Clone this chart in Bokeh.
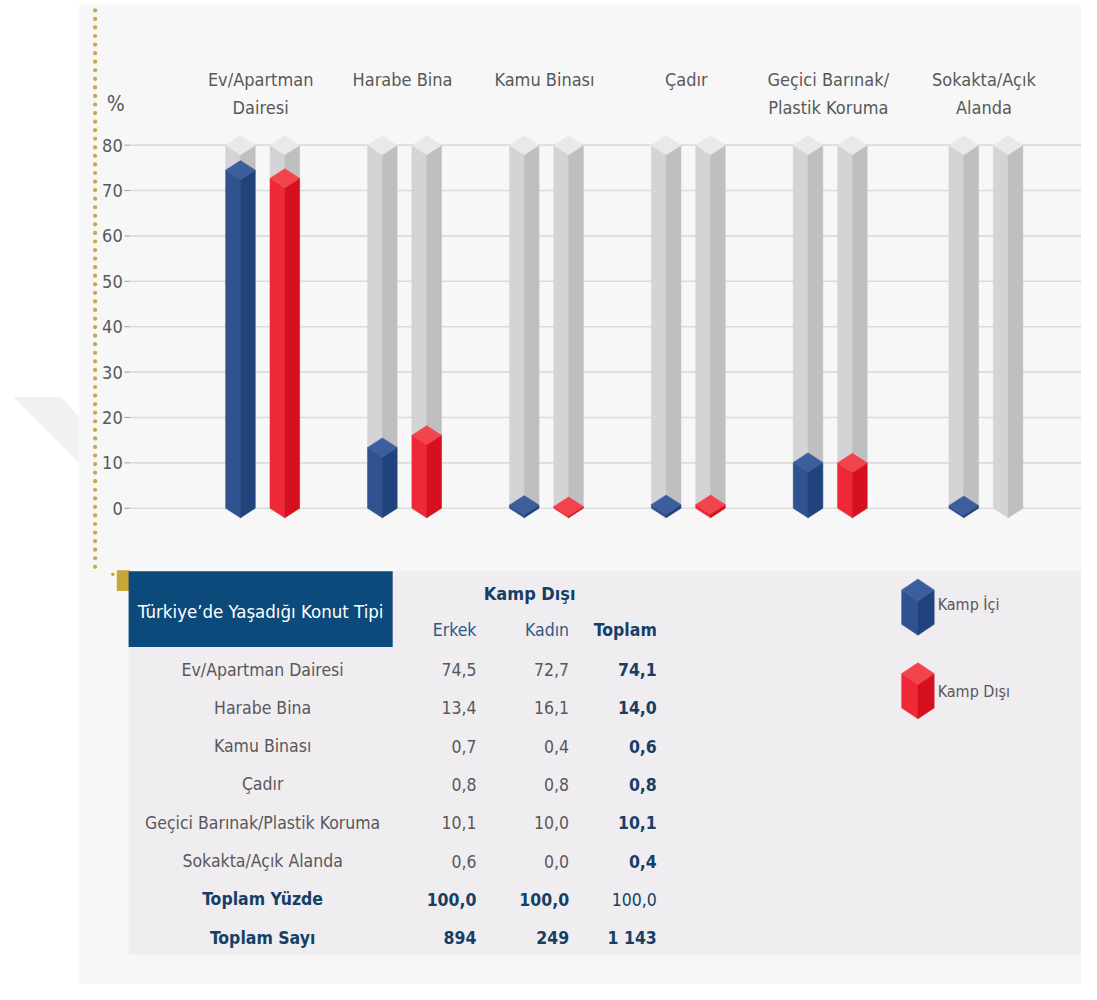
import numpy as np
from bokeh.plotting import figure
from bokeh.models import Range1d, ColumnDataSource
from bokeh.core.properties import value
from bokeh.embed import file_html
from bokeh.resources import INLINE

# ---------------- data ----------------
categories = ["Ev/Apartman Dairesi", "Harabe Bina", "Kamu Binası", "Çadır",
              "Geçici Barınak/Plastik Koruma", "Sokakta/Açık Alanda"]
chart_labels = [["Ev/Apartman", "Dairesi"], ["Harabe Bina"], ["Kamu Binası"], ["Çadır"],
                ["Geçici Barınak/", "Plastik Koruma"], ["Sokakta/Açık", "Alanda"]]
erkek = [74.5, 13.4, 0.7, 0.8, 10.1, 0.6]
kadin = [72.7, 16.1, 0.4, 0.8, 10.0, 0.0]
toplam = [74.1, 14.0, 0.6, 0.8, 10.1, 0.4]
total_pct = [100.0, 100.0, 100.0]
total_n = ["894", "249", "1 143"]
y_ticks = [0, 10, 20, 30, 40, 50, 60, 70, 80]
axis_max = 80
legend_labels = ["Kamp İçi", "Kamp Dışı"]
table_title = "Türkiye’de Yaşadığı Konut Tipi"
group_title = "Kamp Dışı"
col_titles = ["Erkek", "Kadın", "Toplam"]
total_row_titles = ["Toplam Yüzde", "Toplam Sayı"]

FONT = "DejaVu Sans Condensed"
GRAY_TXT = "#58585a"
NAVY = "#173f66"
ROW_FS = "17.5px"

W, H = 1081, 984
PX = 4.6125  # pixels per percent in reference
p = figure(width=W, height=H, output_backend="svg", toolbar_location=None,
           x_range=Range1d(0, 1097), y_range=Range1d(-(1000 - 516) / PX, 516 / PX),
           min_border=0, background_fill_color="#ffffff", border_fill_color="#ffffff")
p.extra_y_ranges = {"px": Range1d(1000, 0)}
p.axis.visible = False
p.grid.visible = False
p.outline_line_color = None

def fmt(v):
    return f"{v:.1f}".replace(".", ",")

# ---------------- backgrounds ----------------
p.quad(left=[80], right=[1097], top=[4], bottom=[1000], y_range_name="px",
       fill_color="#f7f7f7", line_color=None)
p.patch(x=[13, 62, 80, 80], y=[403, 403, 424, 470], y_range_name="px",
        fill_color="#f1f1f1", line_color=None)
p.quad(left=[130], right=[1097], top=[580], bottom=[970], y_range_name="px",
       fill_color="#efedf0", line_color=None)
# dotted gold line
dots_y = np.arange(10, 580, 8.7)
p.scatter(x=[96] * len(dots_y), y=dots_y, y_range_name="px", size=4.2,
          fill_color="#c7aa44", line_color=None)
p.quad(left=[118], right=[131], top=[579], bottom=[600], y_range_name="px",
       fill_color="#c9a53a", line_color=None)
p.scatter(x=[114], y=[583], y_range_name="px", size=3.5, fill_color="#c9a53a", line_color=None)

# ---------------- grid & y axis ----------------
p.segment(x0=[131] * len(y_ticks), x1=[1097] * len(y_ticks), y0=y_ticks, y1=y_ticks,
          line_color="#dcdcdc", line_width=1.6)
p.segment(x0=[126] * len(y_ticks), x1=[131] * len(y_ticks), y0=y_ticks, y1=y_ticks,
          line_color="#9a9a9a", line_width=1)
p.text(x=[124] * len(y_ticks), y=y_ticks, text=[str(t) for t in y_ticks],
       text_align="right", text_baseline="middle", text_font=value(FONT),
       text_font_size="18px", text_color=GRAY_TXT)
p.text(x=[117], y=[105], y_range_name="px", text=["%"], text_align="center",
       text_baseline="middle", text_font=value(FONT), text_font_size="21px", text_color=GRAY_TXT)

# ---------------- 3D bars ----------------
group_x = [266 + 144 * i for i in range(5)] + [1000]
HW = 15.0
D = 2.1

def bar_shapes(xc, v):
    left = ([xc - HW, xc, xc, xc - HW], [v, v - D, -D, 0])
    right = ([xc, xc + HW, xc + HW, xc], [v - D, v, 0, -D])
    cap = ([xc - HW, xc, xc + HW, xc], [v, v + D, v, v - D])
    return left, right, cap

def draw_bars(xs, vals, c_left, c_right, c_cap):
    L = {"xs": [], "ys": []}
    R = {"xs": [], "ys": []}
    C = {"xs": [], "ys": []}
    for xc, v in zip(xs, vals):
        if v <= 0:
            continue
        l, r, c = bar_shapes(xc, v)
        for dct, shp in ((L, l), (R, r), (C, c)):
            dct["xs"].append(shp[0])
            dct["ys"].append(shp[1])
    p.patches(xs="xs", ys="ys", source=ColumnDataSource(L), fill_color=c_left, line_color=c_left, line_width=0.5)
    p.patches(xs="xs", ys="ys", source=ColumnDataSource(R), fill_color=c_right, line_color=c_right, line_width=0.5)
    p.patches(xs="xs", ys="ys", source=ColumnDataSource(C), fill_color=c_cap, line_color=c_cap, line_width=0.5)

blue_x = [g - 22.5 for g in group_x]
red_x = [g + 22.5 for g in group_x]
draw_bars(blue_x + red_x, [axis_max] * (2 * len(categories)), "#d4d3d6", "#bfbfc1", "#e9e8ea")
draw_bars(blue_x, erkek, "#30528f", "#21437c", "#3d5e9c")
draw_bars(red_x, kadin, "#ef2838", "#d7101f", "#f3434d")

# category labels
lx, ly, lt = [], [], []
for g, lines in zip(group_x, chart_labels):
    for k, s in enumerate(lines):
        lx.append(g - 2)
        ly.append(80 + 29 * k)
        lt.append(s)
p.text(x=lx, y=ly, text=lt, y_range_name="px", text_align="center", text_baseline="middle",
       text_font=value(FONT), text_font_size="18px", text_color=GRAY_TXT)

# ---------------- table ----------------
p.quad(left=[130], right=[398], top=[580], bottom=[657], y_range_name="px",
       fill_color="#0c4a7b", line_color=None)
p.text(x=[264], y=[621], text=[table_title], y_range_name="px", text_align="center",
       text_baseline="middle", text_font=value(FONT), text_font_size="18.5px", text_color="#ffffff")
p.text(x=[537], y=[603], text=[group_title], y_range_name="px", text_align="center",
       text_baseline="middle", text_font=value(FONT), text_font_size="18px",
       text_font_style="bold", text_color=NAVY)
col_right = [483, 577, 666]
p.text(x=col_right[:2], y=[640, 640], text=col_titles[:2], y_range_name="px", text_align="right",
       text_baseline="middle", text_font=value(FONT), text_font_size=ROW_FS, text_color="#2f5a86")
p.text(x=[col_right[2]], y=[640], text=[col_titles[2]], y_range_name="px", text_align="right",
       text_baseline="middle", text_font=value(FONT), text_font_size=ROW_FS,
       text_font_style="bold", text_color=NAVY)

row_y = [680 + 38.9 * i for i in range(len(categories))]
p.text(x=[266] * len(categories), y=row_y, text=categories, y_range_name="px",
       text_align="center", text_baseline="middle", text_font=value(FONT),
       text_font_size=ROW_FS, text_color=GRAY_TXT)
p.text(x=[col_right[0]] * len(erkek), y=row_y, text=[fmt(v) for v in erkek], y_range_name="px",
       text_align="right", text_baseline="middle", text_font=value(FONT),
       text_font_size=ROW_FS, text_color=GRAY_TXT)
p.text(x=[col_right[1]] * len(kadin), y=row_y, text=[fmt(v) for v in kadin], y_range_name="px",
       text_align="right", text_baseline="middle", text_font=value(FONT),
       text_font_size=ROW_FS, text_color=GRAY_TXT)
p.text(x=[col_right[2]] * len(toplam), y=row_y, text=[fmt(v) for v in toplam], y_range_name="px",
       text_align="right", text_baseline="middle", text_font=value(FONT),
       text_font_size=ROW_FS, text_font_style="bold", text_color=NAVY)

ty = [680 + 38.9 * 6, 680 + 38.9 * 7]
p.text(x=[266, 266], y=ty, text=total_row_titles, y_range_name="px", text_align="center",
       text_baseline="middle", text_font=value(FONT), text_font_size=ROW_FS,
       text_font_style="bold", text_color=NAVY)
p.text(x=col_right[:2], y=[ty[0]] * 2, text=[fmt(v) for v in total_pct[:2]], y_range_name="px",
       text_align="right", text_baseline="middle", text_font=value(FONT),
       text_font_size=ROW_FS, text_font_style="bold", text_color=NAVY)
p.text(x=[col_right[2]], y=[ty[0]], text=[fmt(total_pct[2])], y_range_name="px",
       text_align="right", text_baseline="middle", text_font=value(FONT),
       text_font_size=ROW_FS, text_color=NAVY)
p.text(x=col_right, y=[ty[1]] * 3, text=total_n, y_range_name="px",
       text_align="right", text_baseline="middle", text_font=value(FONT),
       text_font_size=ROW_FS, text_font_style="bold", text_color=NAVY)

# ---------------- legend ----------------
def cube(xc, ytop, hw, dy, h):
    cap = ([xc - hw, xc, xc + hw, xc], [ytop + dy, ytop, ytop + dy, ytop + 2 * dy])
    left = ([xc - hw, xc, xc, xc - hw], [ytop + dy, ytop + 2 * dy, ytop + 2 * dy + h, ytop + dy + h])
    right = ([xc, xc + hw, xc + hw, xc], [ytop + 2 * dy, ytop + dy, ytop + dy + h, ytop + 2 * dy + h])
    return left, right, cap

leg_colors = [("#30528f", "#21437c", "#3d5e9c"), ("#ef2838", "#d7101f", "#f3434d")]
leg_top = [588, 673]
for (cl, cr, cc), yt in zip(leg_colors, leg_top):
    l, r, c = cube(931, yt, 16.5, 11, 35)
    p.patch(x=l[0], y=l[1], y_range_name="px", fill_color=cl, line_color=cl, line_width=0.5)
    p.patch(x=r[0], y=r[1], y_range_name="px", fill_color=cr, line_color=cr, line_width=0.5)
    p.patch(x=c[0], y=c[1], y_range_name="px", fill_color=cc, line_color=cc, line_width=0.5)
p.text(x=[951, 951], y=[614, 702], text=legend_labels, y_range_name="px", text_align="left",
       text_baseline="middle", text_font=value(FONT), text_font_size="16px", text_color=GRAY_TXT)

open("out.html", "w").write(file_html(p, INLINE))
